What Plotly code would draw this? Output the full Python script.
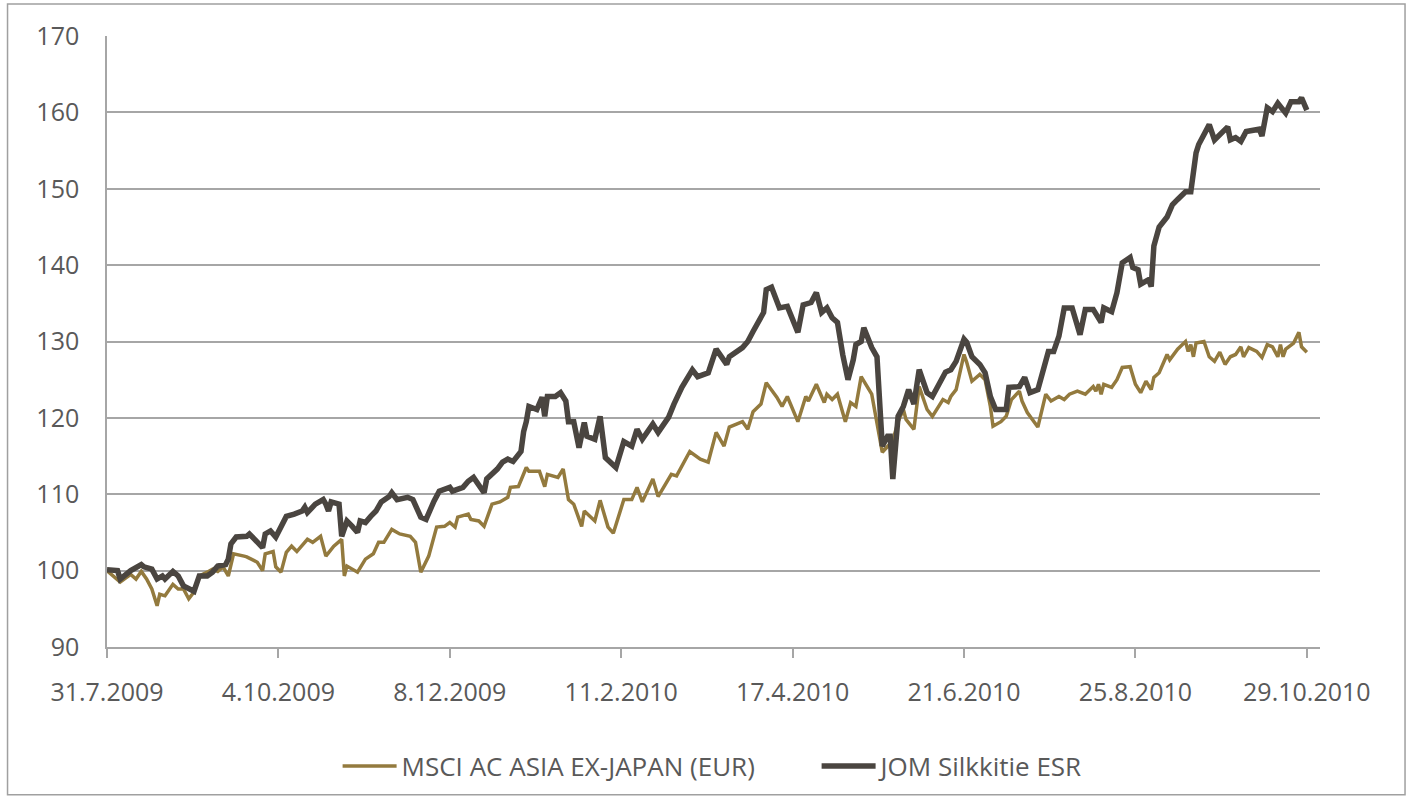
import datetime as dt
import plotly.graph_objects as go

# ---------------- data ----------------
START = dt.date(2009, 7, 31)

tick_dates = ["2009-07-31", "2009-10-04", "2009-12-08", "2010-02-11",
              "2010-04-17", "2010-06-21", "2010-08-25", "2010-10-29"]
tick_labels = ["31.7.2009", "4.10.2009", "8.12.2009", "11.2.2010",
               "17.4.2010", "21.6.2010", "25.8.2010", "29.10.2010"]
y_ticks = [90, 100, 110, 120, 130, 140, 150, 160, 170]

# days after 31.7.2009
msci_days = [0, 5, 9, 11, 13, 15, 17, 19, 20, 22, 25, 27, 29, 31, 33, 35, 38, 40, 42, 44,
             46, 48, 52, 53, 57, 59, 60, 63, 64, 66, 68, 70, 72, 76, 78, 81, 83, 86, 89, 90,
             91, 95, 98, 101, 103, 105, 108, 111, 115, 117, 119, 122, 125, 128, 130, 132, 133, 137, 138, 141,
             143, 146, 149, 152, 153, 156, 159, 160, 164, 166, 167, 171, 173, 175, 177, 180, 181, 185, 187, 190,
             192, 196, 199, 201, 203, 207, 209, 214, 216, 221, 225, 228, 231, 234, 236, 241, 243, 245, 248, 250,
             254, 256, 258, 262, 265, 266, 269, 272, 273, 275, 277, 280, 282, 284, 286, 289, 290, 294, 296, 298,
             300, 302, 303, 306, 308, 311, 313, 317, 319, 320, 322, 325, 326, 328, 331, 333, 335, 336, 339, 341,
             343, 346, 347, 349, 353, 355, 356, 358, 361, 363, 365, 368, 371, 374, 375, 376, 377, 378, 381, 383,
             385, 388, 390, 392, 394, 396, 397, 399, 402, 403, 406, 409, 410, 411, 412, 413, 416, 418, 420, 422,
             424, 426, 428, 430, 431, 433, 436, 438, 440, 442, 444, 445, 446, 447, 450, 452, 453, 455]
msci_values = [100.0, 98.5, 99.5, 98.9, 99.9, 98.9, 97.6, 95.4, 96.9, 96.7, 98.2, 97.6, 97.6, 96.3, 97.2, 99.3, 99.8, 100.2, 99.9, 100.5,
               99.3, 102.2, 101.9, 101.8, 101.1, 100.0, 102.2, 102.5, 100.5, 99.8, 102.4, 103.2, 102.5, 104.1, 103.7, 104.5, 101.9, 103.2, 104.1, 99.3,
               100.6, 99.8, 101.5, 102.2, 103.7, 103.7, 105.4, 104.8, 104.5, 103.7, 99.8, 101.9, 105.7, 105.8, 106.3, 105.7, 107.0, 107.4, 106.7, 106.5,
               105.8, 108.7, 109.0, 109.6, 110.9, 111.0, 113.5, 113.0, 113.0, 111.0, 112.6, 112.2, 113.3, 109.3, 108.7, 105.8, 107.8, 106.5, 109.2, 105.7,
               104.9, 109.3, 109.3, 110.9, 109.0, 112.0, 109.7, 112.6, 112.4, 115.6, 114.6, 114.2, 118.1, 116.3, 118.8, 119.5, 118.5, 120.8, 121.8, 124.6,
               122.7, 121.5, 122.8, 119.5, 122.8, 122.2, 124.4, 122.0, 123.1, 122.4, 123.1, 119.5, 122.0, 121.5, 125.4, 123.7, 123.1, 115.5, 116.3, 117.0,
               119.5, 121.1, 119.8, 118.5, 124.1, 121.1, 120.2, 122.4, 122.0, 122.8, 123.7, 128.3, 127.3, 124.8, 125.7, 125.0, 121.5, 118.9, 119.5, 120.2,
               122.4, 123.5, 122.2, 120.7, 118.8, 121.5, 123.1, 122.2, 122.8, 122.4, 123.1, 123.5, 123.1, 124.1, 123.5, 124.4, 123.1, 124.4, 124.0, 125.0,
               126.6, 126.7, 124.4, 123.3, 124.8, 123.7, 125.3, 125.9, 128.3, 127.6, 129.0, 130.0, 128.7, 129.6, 128.0, 129.8, 130.0, 128.0, 127.4, 128.6,
               127.0, 128.0, 128.3, 129.3, 128.0, 129.2, 128.7, 127.9, 129.6, 129.3, 128.0, 129.6, 128.0, 129.0, 129.8, 131.2, 129.3, 128.6]

jom_days = [0, 4, 5, 7, 9, 13, 14, 17, 19, 21, 22, 25, 27, 29, 31, 33, 35, 38, 40, 42,
            45, 46, 47, 49, 53, 54, 56, 59, 60, 62, 64, 67, 68, 71, 74, 75, 76, 79, 82, 83,
            84, 85, 88, 89, 91, 93, 95, 96, 98, 100, 102, 104, 107, 108, 110, 114, 116, 119, 121, 124,
            126, 130, 131, 135, 137, 139, 141, 143, 144, 148, 150, 152, 154, 157, 158, 159, 160, 163, 165, 166,
            167, 170, 172, 174, 175, 177, 179, 181, 182, 185, 187, 189, 193, 196, 199, 201, 203, 207, 209, 213,
            215, 218, 222, 224, 228, 231, 235, 236, 241, 243, 245, 249, 250, 252, 255, 258, 262, 264, 267, 269,
            271, 273, 275, 277, 279, 281, 283, 284, 286, 287, 290, 292, 294, 296, 297, 298, 300, 302, 304, 306,
            308, 311, 313, 315, 318, 320, 322, 325, 326, 328, 331, 333, 335, 337, 341, 342, 346, 348, 350, 353,
            355, 357, 359, 361, 363, 366, 369, 371, 374, 377, 378, 381, 383, 385, 388, 389, 391, 392, 395, 396,
            397, 399, 402, 404, 406, 409, 411, 413, 414, 418, 420, 425, 426, 428, 430, 432, 437, 438, 440, 442,
            444, 447, 449, 452, 453, 455]
jom_values = [100.1, 100.0, 98.9, 99.5, 100.0, 100.8, 100.5, 100.2, 98.9, 99.3, 98.9, 99.9, 99.3, 98.0, 97.6, 97.3, 99.3, 99.3, 99.8, 100.6,
              100.8, 101.5, 103.5, 104.4, 104.5, 104.8, 104.1, 103.0, 104.8, 105.2, 104.4, 106.3, 107.1, 107.4, 107.8, 108.3, 107.6, 108.7, 109.3, 108.7,
              107.8, 109.0, 108.7, 104.5, 106.5, 105.8, 105.0, 106.5, 106.3, 107.1, 107.8, 109.0, 109.7, 110.2, 109.3, 109.6, 109.3, 107.0, 106.7, 109.1,
              110.4, 110.9, 110.4, 110.9, 111.7, 112.2, 111.3, 110.2, 112.0, 113.3, 114.2, 114.6, 114.3, 115.6, 118.2, 119.5, 121.5, 121.1, 122.7, 120.2,
              122.8, 122.8, 123.3, 122.2, 119.5, 119.5, 116.1, 119.4, 117.6, 117.2, 120.2, 114.8, 113.5, 116.9, 116.3, 118.5, 117.2, 119.2, 118.1, 120.1,
              121.8, 124.0, 126.3, 125.4, 125.9, 129.0, 127.0, 128.0, 129.2, 130.0, 131.3, 133.8, 136.8, 137.1, 134.4, 134.6, 131.2, 134.8, 135.1, 136.4,
              133.8, 134.4, 133.1, 132.5, 128.3, 125.0, 127.6, 129.6, 130.0, 131.8, 129.2, 128.0, 116.3, 117.6, 117.6, 112.0, 120.2, 121.5, 123.7, 121.8,
              126.3, 123.3, 122.8, 124.1, 126.0, 126.3, 127.4, 130.3, 129.9, 128.0, 127.0, 125.9, 122.8, 121.1, 121.1, 124.0, 124.1, 125.3, 123.3, 123.7,
              126.3, 128.7, 128.7, 130.7, 134.4, 134.4, 130.9, 134.2, 134.2, 132.5, 134.4, 133.9, 136.4, 140.3, 141.0, 139.7, 139.4, 137.5, 138.1, 137.2,
              142.5, 145.0, 146.3, 147.9, 148.6, 149.6, 149.6, 154.7, 155.8, 158.4, 156.4, 158.1, 156.4, 156.7, 156.2, 157.5, 157.8, 156.9, 160.6, 160.1,
              161.2, 159.9, 161.4, 161.4, 161.9, 160.3]

# ---------------- figure ----------------
GOLD = "#937A3E"
DARK = "#4A4540"
GRID = "#A6A6A6"
TEXT = "#595959"
FONT = "Open Sans"

msci_x = [START + dt.timedelta(days=d) for d in msci_days]
jom_x = [START + dt.timedelta(days=d) for d in jom_days]

fig = go.Figure()
fig.add_trace(go.Scatter(x=msci_x, y=msci_values, mode="lines",
                         name="MSCI AC ASIA EX-JAPAN (EUR)",
                         line=dict(color=GOLD, width=3.5)))
fig.add_trace(go.Scatter(x=jom_x, y=jom_values, mode="lines",
                         name="JOM Silkkitie ESR",
                         line=dict(color=DARK, width=5.5)))

fig.update_layout(
    width=1411, height=800, autosize=False,
    margin=dict(l=107, r=91, t=36, b=152),
    paper_bgcolor="white", plot_bgcolor="white",
    font=dict(family=FONT, size=24, color=TEXT),
    showlegend=True,
    legend=dict(orientation="h", x=0.585, xanchor="center", y=-0.193, yanchor="middle",
                font=dict(family=FONT, size=26, color=TEXT),
                bgcolor="rgba(0,0,0,0)", itemwidth=54, entrywidth=410),
    shapes=[dict(type="rect", xref="paper", yref="paper",
                 x0=-0.0820, x1=1.0701, y0=-0.2418, y1=1.0523,
                 line=dict(color="#A0A0A0", width=1.5), fillcolor="rgba(0,0,0,0)",
                 layer="below")],
)

fig.update_xaxes(
    type="date",
    range=[START, START + dt.timedelta(days=460)],
    tickmode="array", tickvals=tick_dates, ticktext=tick_labels,
    showgrid=False, showline=True, linecolor=GRID, linewidth=1.5,
    ticks="outside", ticklen=9, tickcolor=GRID, tickwidth=1.5,
    ticklabelstandoff=13,
    tickfont=dict(family=FONT, size=25, color=TEXT),
    zeroline=False,
)
fig.update_yaxes(
    range=[90, 170], tickmode="array", tickvals=y_ticks,
    showgrid=True, gridcolor=GRID, gridwidth=1.5,
    showline=True, linecolor=GRID, linewidth=1.5,
    ticks="", ticklabelstandoff=21,
    tickfont=dict(family=FONT, size=25, color=TEXT),
    zeroline=False,
)

fig.write_html("out.html",
               config={"displayModeBar": False},
               post_script="document.body.style.margin='0';document.body.style.overflow='hidden';")
